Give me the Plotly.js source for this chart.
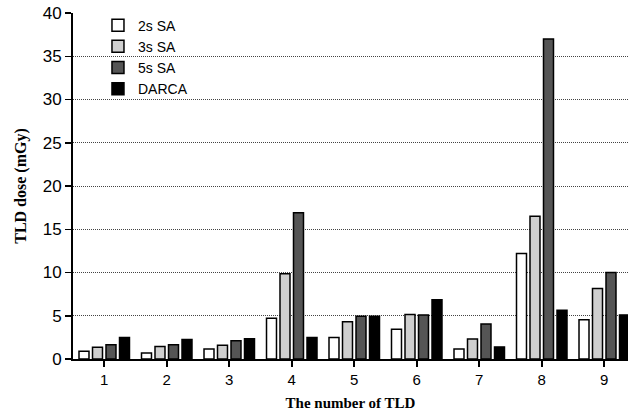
<!DOCTYPE html>
<html>
<head>
<meta charset="utf-8">
<script src="https://cdn.plot.ly/plotly-3.0.1.min.js"></script>
<style>html,body{margin:0;padding:0;background:#fff;}#chart{width:628px;height:416px;}</style>
</head>
<body>
<div id="chart"></div>
<script>
const categories = [1, 2, 3, 4, 5, 6, 7, 8, 9];
const seriesNames = ["2s SA", "3s SA", "5s SA", "DARCA"];
const sa2s = [0.9, 0.7, 1.15, 4.7, 2.5, 3.45, 1.15, 12.2, 4.55];
const sa3s = [1.35, 1.45, 1.6, 9.85, 4.3, 5.15, 2.3, 16.5, 8.15];
const sa5s = [1.65, 1.65, 2.1, 16.9, 4.95, 5.1, 4.05, 37.0, 10.0];
const darca = [2.5, 2.25, 2.35, 2.5, 4.95, 6.85, 1.4, 5.65, 5.1];
const yTicks = [0, 5, 10, 15, 20, 25, 30, 35, 40];

const fills = ["#ffffff", "#cfcfcf", "#555555", "#000000"];
const values = [sa2s, sa3s, sa5s, darca];
const traces = values.map((v, i) => ({
  type: "bar",
  name: seriesNames[i],
  x: categories,
  y: v,
  marker: {color: fills[i], line: {color: "#000", width: 1.5}}
}));

const layout = {
  width: 628, height: 416,
  margin: {l: 73, r: 0, t: 13, b: 57},
  paper_bgcolor: "#fff", plot_bgcolor: "#fff",
  barmode: "group", bargap: 0.136, bargroupgap: 0.26,
  font: {family: "Liberation Sans, Arial, sans-serif", color: "#000", size: 15},
  showlegend: true,
  legend: {x: 0.045, y: 1.01, xanchor: "left", yanchor: "top", bgcolor: "rgba(0,0,0,0)",
           font: {size: 14, family: "Liberation Sans, Arial, sans-serif"}, tracegroupgap: 0},
  xaxis: {
    range: [0.5, 9.38], tickvals: categories, ticktext: categories.map(String),
    showgrid: false, zeroline: false, showline: true, linecolor: "#000", linewidth: 2,
    ticks: "outside", ticklen: 6, tickwidth: 2, tickcolor: "#000",
    tickfont: {size: 15},
    title: {text: "The number of TLD", font: {family: "Liberation Serif, Times New Roman, serif", size: 15, weight: "bold"}, standoff: 10}
  },
  yaxis: {
    range: [0, 40], tickvals: yTicks, ticktext: yTicks.map(String),
    showgrid: true, gridcolor: "#444", griddash: "1px,1px", gridwidth: 1,
    zeroline: false, showline: true, linecolor: "#000", linewidth: 2,
    ticks: "outside", ticklen: 6, tickwidth: 1.5, tickcolor: "#000",
    tickfont: {size: 17},
    title: {text: "TLD dose (mGy)", font: {family: "Liberation Serif, Times New Roman, serif", size: 16, weight: "bold"}, standoff: 12}
  }
};

Plotly.newPlot("chart", traces, layout, {displayModeBar: false, staticPlot: true});
</script>
</body>
</html>
